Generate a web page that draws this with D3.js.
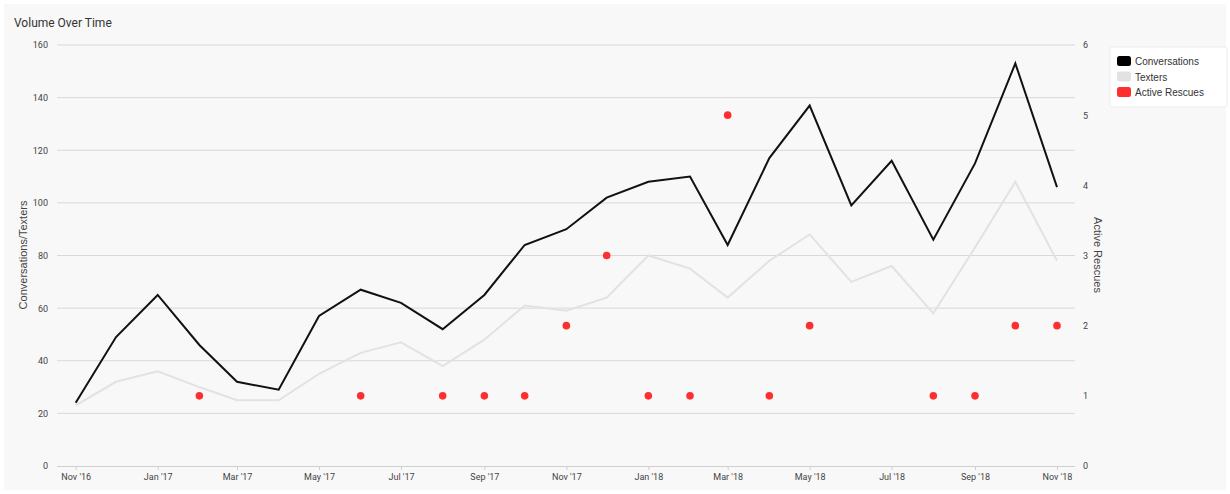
<!DOCTYPE html>
<html>
<head>
<meta charset="utf-8">
<script src="https://cdn.jsdelivr.net/npm/d3@7/dist/d3.min.js"></script>
<style>
  html, body { margin: 0; padding: 0; background: #ffffff; }
  svg { display: block; }
</style>
</head>
<body>
<svg id="chart" width="1230" height="494"></svg>
<script>
// ---- data ----
const months = ["2016-11","2016-12","2017-01","2017-02","2017-03","2017-04","2017-05","2017-06","2017-07","2017-08","2017-09","2017-10","2017-11","2017-12","2018-01","2018-02","2018-03","2018-04","2018-05","2018-06","2018-07","2018-08","2018-09","2018-10","2018-11"];
const conversations = [24,49,65,46,32,29,57,67,62,52,65,84,90,102,108,110,84,117,137,99,116,86,115,153,106];
const texters = [23,32,36,30,25,25,35,43,47,38,48,61,59,64,80,75,64,78,88,70,76,58,83,108,78];
const rescues = [null,null,null,1,null,null,null,1,null,1,1,1,2,3,1,1,5,1,2,null,null,1,1,2,2];
const leftTicks = [0,20,40,60,80,100,120,140,160];
const rightTicks = [0,1,2,3,4,5,6];
const seriesNames = ["Conversations","Texters","Active Rescues"];
const seriesColors = ["#000000","#e2e2e2","#ff2f2f"];

const parse = d3.timeParse("%Y-%m");
const dates = months.map(parse);

const svg = d3.select("#chart");
const W = 1230, H = 494;
const FONT = "Roboto, 'DejaVu Sans', sans-serif";

svg.append("rect").attr("x",4).attr("y",4).attr("width",W-8).attr("height",H-8).attr("fill","#f8f8f8");

const x = d3.scaleTime().domain([dates[0], dates[dates.length-1]]).range([75.7, 1057]);
const y = d3.scaleLinear().domain([0,160]).range([466,45]);
const y2 = d3.scaleLinear().domain([0,6]).range([466,45]);
const plotL = 57, plotR = 1075;

// title
svg.append("text").attr("x",14).attr("y",27).text("Volume Over Time")
  .attr("font-family",FONT).attr("font-size",12).attr("fill","#333");

// grid lines
svg.append("g").selectAll("line").data(leftTicks.filter(d=>d>0)).join("line")
  .attr("x1",plotL).attr("x2",plotR)
  .attr("y1",d=>y(d)).attr("y2",d=>y(d))
  .attr("stroke","#d8d8d8").attr("stroke-width",1);

// left axis labels
const gl = svg.append("g").attr("transform",`translate(${plotL-9},0)`)
  .call(d3.axisLeft(y).tickValues(leftTicks).tickSize(0).tickPadding(0));
gl.select(".domain").remove();
gl.selectAll("text").attr("font-family",FONT).attr("font-size",9).attr("fill","#444");

// right axis labels
const gr = svg.append("g").attr("transform",`translate(${plotR+8},0)`)
  .call(d3.axisRight(y2).tickValues(rightTicks).tickSize(0).tickPadding(0).tickFormat(d3.format("d")));
gr.select(".domain").remove();
gr.selectAll("text").attr("font-family",FONT).attr("font-size",9).attr("fill","#444");

// x axis
const tickDates = dates.filter((d,i)=>i%2===0);
const gx = svg.append("g").attr("transform",`translate(0,${y(0)})`)
  .call(d3.axisBottom(x).tickValues(tickDates).tickSize(4).tickPadding(4)
    .tickFormat(d3.timeFormat("%b '%y")));
gx.select(".domain").attr("d",`M${plotL},0.5H${plotR}`).attr("stroke","#cfcfcf");
gx.selectAll(".tick line").attr("stroke","#cfcfcf");
gx.selectAll("text").attr("font-family",FONT).attr("font-size",9).attr("fill","#444");

// axis titles
svg.append("text").attr("transform","translate(27,255) rotate(-90)")
  .attr("text-anchor","middle").text("Conversations/Texters")
  .attr("font-family","'Liberation Sans', Arial, sans-serif").attr("font-size",11).attr("fill","#444");
svg.append("text").attr("transform","translate(1094,255) rotate(90)")
  .attr("text-anchor","middle").text("Active Rescues")
  .attr("font-family","'Liberation Sans', Arial, sans-serif").attr("font-size",11).attr("fill","#444");

// lines
const line = d3.line().x((d,i)=>x(dates[i])).y(d=>y(d));
svg.append("path").datum(texters).attr("d",line)
  .attr("fill","none").attr("stroke",seriesColors[1]).attr("stroke-width",2);
svg.append("path").datum(conversations).attr("d",line)
  .attr("fill","none").attr("stroke","#111").attr("stroke-width",2);

// rescue dots
svg.append("g").selectAll("circle")
  .data(rescues.map((v,i)=>({v,d:dates[i]})).filter(o=>o.v!==null))
  .join("circle").attr("cx",o=>x(o.d)).attr("cy",o=>y2(o.v)).attr("r",3.8)
  .attr("fill",seriesColors[2]);

// legend
const lg = svg.append("g").attr("transform","translate(1110,47)");
lg.append("rect").attr("width",117).attr("height",60).attr("rx",2)
  .attr("fill","#ffffff").attr("stroke","#ececec");
seriesNames.forEach((n,i)=>{
  lg.append("rect").attr("x",7).attr("y",9+i*15.5).attr("width",14).attr("height",10).attr("rx",2.5)
    .attr("fill",seriesColors[i]);
  lg.append("text").attr("x",25).attr("y",18+i*15.5).text(n)
    .attr("font-family","'Liberation Sans', Arial, sans-serif").attr("font-size",10).attr("fill","#333");
});
</script>
</body>
</html>
